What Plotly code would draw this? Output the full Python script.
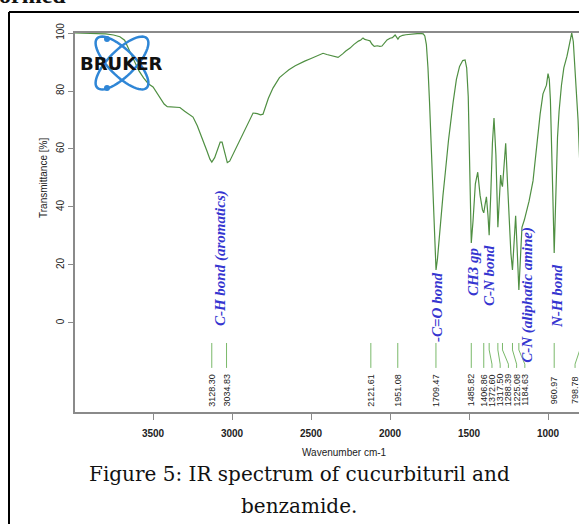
import numpy as np
import plotly.graph_objects as go

# ---------------- data ----------------
wavenumber = [3994, 3900, 3800, 3750, 3710, 3680, 3650, 3620, 3590, 3560, 3530, 3500,
              3460, 3430, 3410, 3370, 3330, 3300, 3270, 3247, 3220, 3190, 3160, 3140,
              3128, 3110, 3090, 3075, 3063, 3050, 3040, 3030, 3015, 3000, 2980, 2960,
              2940, 2920, 2900, 2880, 2867, 2840, 2820, 2804, 2790, 2770, 2741, 2720,
              2700, 2670, 2640, 2600, 2570, 2540, 2500, 2460, 2424, 2400, 2380, 2350,
              2329, 2300, 2280, 2253, 2230, 2200, 2185, 2171, 2160, 2140, 2127, 2115,
              2100, 2080, 2065, 2051, 2035, 2019, 2000, 1985, 1968, 1958, 1950, 1940,
              1920, 1900, 1870, 1840, 1810, 1790,
              1780, 1770, 1760, 1750, 1740, 1730, 1720, 1709, 1700, 1690, 1680, 1665,
              1650, 1630, 1601, 1580, 1560, 1540, 1525, 1515, 1505, 1495,
              1485.8, 1475, 1460, 1445, 1430, 1415, 1406.9, 1398, 1390, 1380, 1372.6,
              1362, 1352, 1342, 1330, 1317.5, 1308, 1300, 1294, 1288.4, 1280, 1268,
              1258, 1245, 1235, 1225.1, 1215, 1205, 1195, 1184.6, 1175, 1165, 1150,
              1135, 1120, 1095, 1070, 1050, 1032, 1020, 1010, 1000, 992, 985, 978, 970,
              961, 955, 948, 940, 930, 915, 900, 880, 865, 850, 840, 830, 820, 810, 799]
transmittance = [100, 99.9, 99.7, 99.3, 98.7, 97.5, 94, 90, 87, 84.5, 82.5, 81.4,
                 78, 75.5, 74.6, 74.4, 74.3, 73, 71.8, 71, 68, 64, 59.5, 56.5,
                 55.5, 57, 60.5, 62.4, 62.4, 59.5, 56.5, 55.3, 55.8, 57.5, 59.5, 61.5,
                 64, 66.5, 68.5, 71, 72.4, 72.2, 71.8, 72, 74.5, 77.5, 81, 83,
                 84.6, 86, 87.3, 88.7, 89.6, 90.3, 91.2, 92.2, 93, 92.6, 92.3, 91.8,
                 91.6, 92.8, 93.8, 94.8, 96, 97.2, 97.6, 98.3, 97.8, 97.5, 97.3, 96.2,
                 95.4, 95.6, 95.4, 95.5, 96.5, 97.6, 98.2, 98.4, 99.3, 98.6, 97.9, 98.7,
                 99.2, 99.4, 99.6, 99.8, 99.9, 99.7,
                 99, 96, 88, 76, 62, 47, 31, 18.3, 22, 29, 36, 44,
                 52, 63, 76, 84, 88.5, 90.5, 90.7, 88, 78, 55,
                 27.6, 35, 48, 52, 44, 39, 38, 41, 43.5, 37, 30.3,
                 45, 62, 70.7, 58, 33, 43, 51, 48, 47, 53, 62,
                 50, 33, 24, 18.3, 28, 37, 25, 11.4, 22, 33, 35.5,
                 39, 42, 49, 62, 72, 79, 80.5, 82, 86, 84, 77, 65, 45,
                 24.1, 34, 52, 64, 73, 82, 88, 92, 96, 100, 97, 88, 80, 70, 55]

peak_positions = [3128.30, 3034.83, 2121.61, 1951.08, 1709.47, 1485.82, 1406.86,
                  1372.60, 1317.50, 1288.39, 1225.08, 1184.63, 960.97, 798.78]
peak_labels = ["3128.30", "3034.83", "2121.61", "1951.08", "1709.47", "1485.82", "1406.86",
               "1372.60", "1317.50", "1288.39", "1225.08", "1184.63", "960.97", "798.78"]

band_names = ["C-H bond (aromatics)", "-C=O bond", "CH3 gp", "C-N bond",
              "C-N (aliphatic amine)", "N-H bond"]
band_x = [3076, 1703, 1475, 1373, 1127, 943]
band_y = [22.4, 5.5, 17.6, 16.2, 9.7, 9.3]

x_ticks = [3500, 3000, 2500, 2000, 1500, 1000]
y_ticks = [0, 20, 40, 60, 80, 100]

# ---------------- layout geometry ----------------
W, H = 579, 524
L, R, T, B = 75, 0, 33, 112
XR = [3994, 804]
YR = [-30.7, 100]
PW, PH = W - L - R, H - T - B


def pxx(x):
    return (x - L) / PW


def pxy(y):
    return (H - B - y) / PH


GREEN = "#4f8f42"
LGREEN = "#7ab96a"
BLUE = "#3535d0"
GREY = "#8a8a8a"

fig = go.Figure()
fig.add_trace(go.Scatter(x=wavenumber, y=transmittance, mode="lines",
                         line=dict(color=GREEN, width=1.2), hoverinfo="skip",
                         showlegend=False))

# label positions spread so they do not overlap
gap = 52
label_pos = []
for i, p in enumerate(peak_positions):
    pos = p if i == 0 else min(p, label_pos[-1] - gap)
    label_pos.append(max(pos, XR[1] + 25))

lx, ly = [], []
for p, q in zip(peak_positions, label_pos):
    lx += [p, p, q, q, None]
    ly += [-6.9, -9.3, -14.2, -15.5, None]
fig.add_trace(go.Scatter(x=lx, y=ly, mode="lines", line=dict(color=LGREEN, width=1),
                         hoverinfo="skip", showlegend=False))


def pann(x, y, text, font, angle=0, xanchor="center"):
    return dict(x=pxx(x), y=pxy(y), xref="paper", yref="paper", text=text,
                showarrow=False, textangle=angle, xanchor=xanchor, yanchor="middle",
                font=font)


ann = []
for q, t in zip(label_pos, peak_labels):
    ann.append(dict(x=q, y=-23.1, xref="x", yref="y", text=t, showarrow=False,
                    xanchor="center", yanchor="middle",
                    textangle=-90, font=dict(family="Arial", size=9, color="#222")))
for t, x, y in zip(band_names, band_x, band_y):
    ann.append(dict(x=x, y=y, xref="x", yref="y", text="<b><i>" + t + "</i></b>",
                    showarrow=False, textangle=-90, xanchor="center", yanchor="middle",
                    font=dict(family="Liberation Serif", size=15, color=BLUE)))

ann.append(pann(44, 178, "Transmittance [%]", dict(family="Arial", size=10, color="#222"), -90))
ann.append(pann(344, 452, "Wavenumber cm-1", dict(family="Arial", size=10, color="#222")))
ann.append(pann(299, 474, "Figure 5: IR spectrum of cucurbituril and",
                dict(family="DejaVu Serif", size=20, color="#111")))
ann.append(pann(299, 506, "benzamide.", dict(family="DejaVu Serif", size=20, color="#111")))
ann.append(pann(-3, -5, "<b>ormed</b>", dict(family="Liberation Serif", size=24, color="#111"),
                xanchor="left"))
ann.append(pann(121, 63, "<b>BRUKER</b>", dict(family="DejaVu Sans", size=18, color="#111")))

shapes = []
# outer frame
shapes.append(dict(type="line", xref="paper", yref="paper", x0=pxx(9), x1=pxx(9),
                   y0=pxy(12), y1=pxy(540), line=dict(color="#000", width=2)))
shapes.append(dict(type="line", xref="paper", yref="paper", x0=pxx(9), x1=pxx(600),
                   y0=pxy(12), y1=pxy(12), line=dict(color="#000", width=2)))
# logo ellipses
t = np.linspace(0, 2 * np.pi, 60)
cx, cy, a, b = 122, 63, 35, 13
for ang in (np.pi / 4, -np.pi / 4):
    ex = cx + a * np.cos(t) * np.cos(ang) - b * np.sin(t) * np.sin(ang)
    ey = cy + a * np.cos(t) * np.sin(ang) + b * np.sin(t) * np.cos(ang)
    path = "M " + " L ".join(f"{pxx(u):.5f},{pxy(v):.5f}" for u, v in zip(ex, ey)) + " Z"
    shapes.append(dict(type="path", xref="paper", yref="paper", path=path,
                       line=dict(color="#2f86d6", width=2.5)))
for dx, dy in ((107, 39), (107, 88)):
    shapes.append(dict(type="circle", xref="paper", yref="paper",
                       x0=pxx(dx - 3), x1=pxx(dx + 3), y0=pxy(dy + 3), y1=pxy(dy - 3),
                       fillcolor="#2f86d6", line=dict(width=0)))

fig.update_layout(
    width=W, height=H, margin=dict(l=L, r=R, t=T, b=B),
    paper_bgcolor="white", plot_bgcolor="white",
    annotations=ann, shapes=shapes, showlegend=False,
    xaxis=dict(range=XR, tickvals=x_ticks, ticks="outside", ticklen=6, tickcolor=GREY,
               showline=True, linecolor=GREY, linewidth=1.5, mirror=True, showgrid=False,
               zeroline=False, ticklabelstandoff=5,
               tickfont=dict(family="Arial", size=10, color="#222", weight="bold")),
    yaxis=dict(range=YR, tickvals=y_ticks, ticks="outside", ticklen=5, tickcolor=GREY,
               showline=True, linecolor=GREY, linewidth=1.5, showgrid=False, zeroline=False,
               tickangle=-90, tickfont=dict(family="Arial", size=10, color="#222")),
)
fig.write_html("out.html")
